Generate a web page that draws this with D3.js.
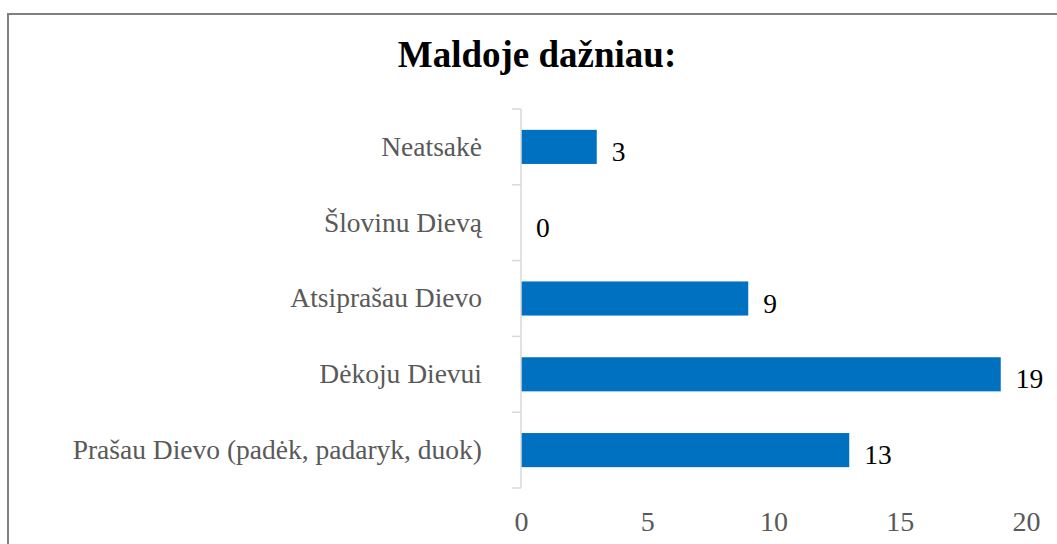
<!DOCTYPE html>
<html>
<head>
<meta charset="utf-8">
<script src="https://cdn.jsdelivr.net/npm/d3@7"></script>
<style>
  body { margin: 0; background: #fff; }
  svg text { font-family: "Times New Roman", Times, "Liberation Serif", "DejaVu Serif", serif !important; }
  .axis .domain { display: none; }
</style>
</head>
<body>
<div id="graf"></div>
<script>
// Datos
const categorias = ["Neatsakė", "Šlovinu Dievą", "Atsiprašau Dievo", "Dėkoju Dievui", "Prašau Dievo (padėk, padaryk, duok)"]
const valores = [3, 0, 9, 19, 13]
const ticksX = [0, 5, 10, 15, 20]
const titulo = "Maldoje dažniau:"

const anchoTotal = 1057
const altoTotal = 544
const margins = { top: 109, left: 521, right: 30, bottom: 56 }

const svg = d3.select("#graf").append("svg")
    .attr("width", anchoTotal)
    .attr("height", altoTotal)

// marco
svg.append("rect")
    .attr("x", 8)
    .attr("y", 14)
    .attr("width", 1100)
    .attr("height", 600)
    .attr("fill", "none")
    .attr("stroke", "#808080")
    .attr("stroke-width", 2)

svg.append("text")
    .attr("x", 537)
    .attr("y", 67)
    .attr("text-anchor", "middle")
    .attr("font-size", 37)
    .attr("font-weight", "bold")
    .attr("fill", "#000")
    .text(titulo)

// Escaladores
const x = d3.scaleLinear()
    .domain([0, 20])
    .range([margins.left, 1026])

const y = d3.scaleBand()
    .domain(categorias)
    .range([109, 488])

const g = svg.append("g")

// barras
const barH = y.bandwidth() * 0.45
g.selectAll("rect.bar")
    .data(valores)
    .enter()
    .append("rect")
    .attr("class", "bar")
    .attr("x", x(0))
    .attr("y", (d, i) => y(categorias[i]) + (y.bandwidth() - barH) / 2)
    .attr("width", d => x(d) - x(0))
    .attr("height", barH)
    .attr("fill", "#0070c0")

// etiquetas de valor
g.selectAll("text.val")
    .data(valores)
    .enter()
    .append("text")
    .attr("class", "val")
    .attr("x", d => x(d) + 15)
    .attr("y", (d, i) => y(categorias[i]) + y.bandwidth() / 2 + 14)
    .attr("font-size", 27.5)
    .attr("fill", "#000")
    .text(d => d)

// Eje y
g.append("line")
    .attr("x1", x(0)).attr("x2", x(0))
    .attr("y1", y.range()[0]).attr("y2", y.range()[1])
    .attr("stroke", "#d9d9d9")
    .attr("stroke-width", 1.5)

const bordes = categorias.map(c => y(c)).concat([y.range()[1]])
g.selectAll("line.tick")
    .data(bordes)
    .enter()
    .append("line")
    .attr("class", "tick")
    .attr("x1", x(0) - 9).attr("x2", x(0))
    .attr("y1", d => d).attr("y2", d => d)
    .attr("stroke", "#d9d9d9")
    .attr("stroke-width", 1.5)

const yAxis = g.append("g")
    .attr("class", "axis")
    .attr("transform", `translate(${x(0)},0)`)
    .call(d3.axisLeft(y).tickSize(0).tickPadding(39))
yAxis.attr("font-family", null)
yAxis.selectAll("text")
    .attr("font-size", 27.5)
    .attr("fill", "#595959")

// Eje x
const xAxis = g.append("g")
    .attr("class", "axis")
    .attr("transform", `translate(0,488)`)
    .call(d3.axisBottom(x).tickValues(ticksX).tickSize(0).tickPadding(23))
xAxis.attr("font-family", null)
xAxis.selectAll("text")
    .attr("font-size", 28)
    .attr("fill", "#595959")
</script>
</body>
</html>
